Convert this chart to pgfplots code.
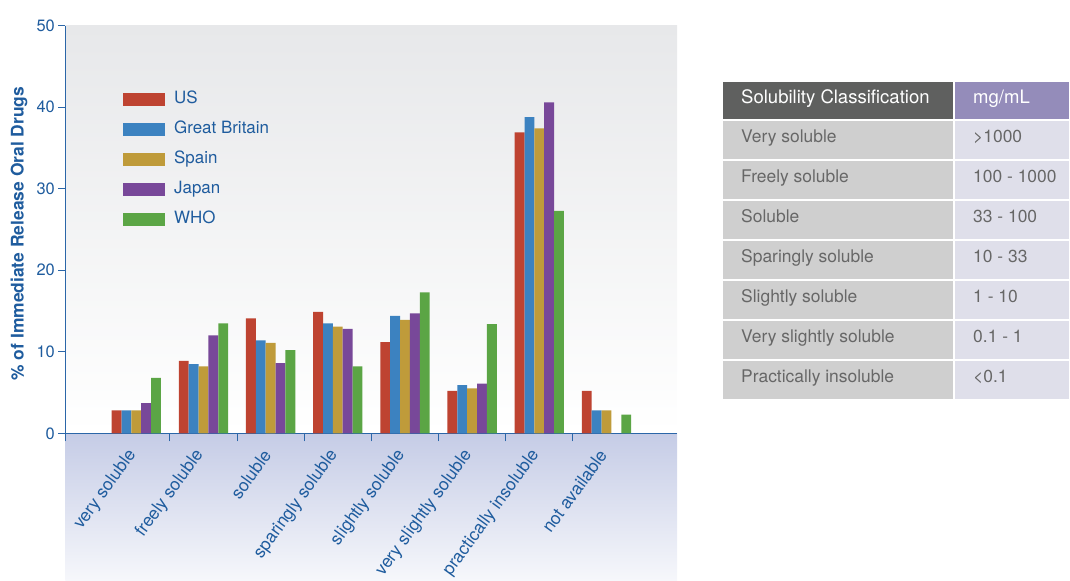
\documentclass[border=0pt]{standalone}
\usepackage{fontspec}
\setmainfont{TeX Gyre Heros}
\usepackage{pgfplots}
\pgfplotsset{compat=1.18}
\definecolor{cUS}{HTML}{BE4331}
\definecolor{cGB}{HTML}{3C82C0}
\definecolor{cES}{HTML}{BF9B3A}
\definecolor{cJP}{HTML}{784899}
\definecolor{cWHO}{HTML}{5BA545}
\definecolor{txtblue}{HTML}{1F5C9E}
\definecolor{axblue}{HTML}{2B66A8}
\definecolor{hdrL}{HTML}{5F605F}
\definecolor{hdrR}{HTML}{948CBA}
\definecolor{rowL}{HTML}{CFCFCF}
\definecolor{rowR}{HTML}{DFDFEA}
\definecolor{rowtxt}{HTML}{676767}
\definecolor{bandtop}{HTML}{C5CCE6}
\definecolor{bandbot}{HTML}{F6F7FB}
\definecolor{bgtop}{HTML}{E7E8EA}
\begin{document}
\begin{tikzpicture}
\path[use as bounding box] (0bp,0bp) rectangle (1070bp,-581bp);
\fill[top color=bandtop,bottom color=bandbot] (65.3bp,-433.3bp) rectangle (677bp,-580bp);
\begin{axis}[
  at={(65.3bp,-433.3bp)}, anchor=south west,
  scale only axis, width=611.7bp, height=407.6bp,
  xmin=-1.057, xmax=8.05, ymin=0, ymax=50,
  ybar=0pt, bar width=0.1468,
  axis x line*=bottom, axis y line*=left,
  axis line style={axblue, line width=1.2bp},
  axis background/.style={top color=bgtop, bottom color=white},
  xtick={0,1,2,3,4,5,6,7},
  xticklabels={very soluble, freely soluble, soluble, sparingly soluble, slightly soluble, very slightly soluble, practically insoluble, not available},
  major x tick style={draw=none},
  minor xtick={-1.057,0.5,1.5,2.5,3.5,4.5,5.5,6.5},
  minor x tick style={axblue, line width=1bp},
  minor tick length=8bp,
  major tick length=7bp,
  tick align=outside,
  y tick style={axblue, line width=1bp},
  ytick={0,10,20,30,40,50},
  x tick label style={xshift=-1.5bp, yshift=-8.7bp, rotate=54, anchor=east, text=txtblue, font=\fontsize{17.5}{19}\selectfont},
  y tick label style={text=txtblue, font=\fontsize{16.5}{18}\selectfont},
  /pgf/number format/assume math mode=true,
  ylabel={\% of Immediate Release Oral Drugs},
  every axis y label/.style={at={(axis description cs:-0.0757,0.49)}, rotate=90, anchor=center, text=txtblue, font=\bfseries\fontsize{17.5}{20}\selectfont},
  legend style={at={(rel axis cs:0.0943,0.842)}, anchor=north west, draw=none, fill=none, inner sep=0pt,
    font=\fontsize{17}{20}\selectfont, text=txtblue, row sep=12bp,
    nodes={inner sep=1bp, text height=12.5bp, text depth=3.5bp},
    /tikz/every odd column/.append style={column sep=8bp}},
  legend cell align=left,
]
\addplot[fill=cUS, draw=none, legend image code/.code={\fill[cUS] (0bp,-6.5bp) rectangle (42bp,6.5bp);}] coordinates {(0,2.8) (1,8.9) (2,14.1) (3,14.9) (4,11.2) (5,5.2) (6,36.9) (7,5.2)};
\addplot[fill=cGB, draw=none, legend image code/.code={\fill[cGB] (0bp,-6.5bp) rectangle (42bp,6.5bp);}] coordinates {(0,2.8) (1,8.5) (2,11.4) (3,13.5) (4,14.4) (5,5.9) (6,38.8) (7,2.8)};
\addplot[fill=cES, draw=none, legend image code/.code={\fill[cES] (0bp,-6.5bp) rectangle (42bp,6.5bp);}] coordinates {(0,2.8) (1,8.2) (2,11.1) (3,13.1) (4,13.9) (5,5.5) (6,37.4) (7,2.8)};
\addplot[fill=cJP, draw=none, legend image code/.code={\fill[cJP] (0bp,-6.5bp) rectangle (42bp,6.5bp);}] coordinates {(0,3.7) (1,12.0) (2,8.6) (3,12.8) (4,14.7) (5,6.1) (6,40.6)};
\addplot[fill=cWHO, draw=none, legend image code/.code={\fill[cWHO] (0bp,-6.5bp) rectangle (42bp,6.5bp);}] coordinates {(0,6.8) (1,13.5) (2,10.2) (3,8.2) (4,17.3) (5,13.4) (6,27.3) (7,2.3)};
\legend{US, Great Britain, Spain, Japan, WHO}
\end{axis}
% table
\fill[hdrL] (723bp,-82.3bp) rectangle (953bp,-119.2bp);
\fill[hdrR] (954.7bp,-82.3bp) rectangle (1069bp,-119.2bp);
\node[anchor=mid west, inner sep=0pt, text=white, font=\fontsize{18.6}{20}\selectfont] at (741bp,-100.5bp) {Solubility Classification};
\node[anchor=mid west, inner sep=0pt, text=white, font=\fontsize{18.6}{20}\selectfont] at (973bp,-100.5bp) {mg/mL};
\foreach \i/\a/\b in {1/Very soluble/{>1000}, 2/Freely soluble/{100 - 1000}, 3/Soluble/{33 - 100}, 4/Sparingly soluble/{10 - 33}, 5/Slightly soluble/{1 - 10}, 6/Very slightly soluble/{0.1 - 1}, 7/Practically insoluble/{<0.1}} {
  \pgfmathsetmacro\rtop{-(120.9+(\i-1)*40)}
  \pgfmathsetmacro\rbot{-(120.9+\i*40-1.9)}
  \pgfmathsetmacro\rmid{-(120.9+(\i-0.5)*40-0.9)}
  \fill[rowL] (723bp,\rtop bp) rectangle (953bp,\rbot bp);
  \fill[rowR] (954.7bp,\rtop bp) rectangle (1069bp,\rbot bp);
  \node[anchor=mid west, inner sep=0pt, text=rowtxt, font=\fontsize{17.5}{20}\selectfont] at (741bp,\rmid bp) {\a};
  \node[anchor=mid west, inner sep=0pt, text=rowtxt, font=\fontsize{17.5}{20}\selectfont] at (973bp,\rmid bp) {\b};
}
\end{tikzpicture}
\end{document}
